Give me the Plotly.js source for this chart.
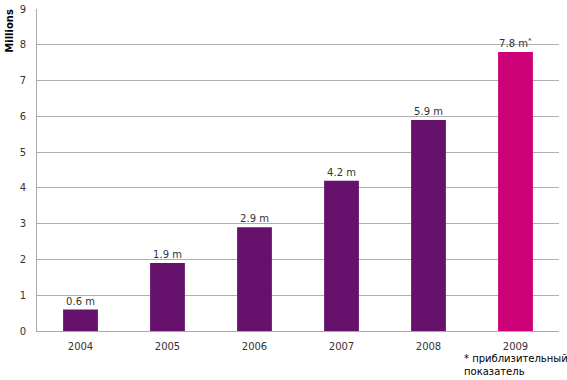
<!DOCTYPE html>
<html><head><meta charset="utf-8">
<script src="https://cdn.plot.ly/plotly-3.0.1.min.js"></script>
<style>html,body{margin:0;padding:0;background:#fff}#chart{width:567px;height:380px}</style>
</head><body><div id="chart"></div>
<script>
const years = ['2004','2005','2006','2007','2008','2009'];
const values = [0.6, 1.9, 2.9, 4.2, 5.9, 7.8];
const labels = ['0.6 m','1.9 m','2.9 m','4.2 m','5.9 m','7.8 m<sup>*</sup>'];
const colors = ['#66116b','#66116b','#66116b','#66116b','#66116b','#cc0077'];
const yTicks = [0,1,2,3,4,5,6,7,8,9];
const yTitle = '<b>Millions</b>';
const footnote = '* приблизительный<br>показатель';

const trace = {
  type: 'bar', x: years, y: values, text: labels, textposition: 'outside',
  cliponaxis: false,
  textfont: {family: 'DejaVu Sans, Verdana, sans-serif', size: 10, color: '#333'},
  marker: {color: colors}, hoverinfo: 'none'
};
const layout = {
  width: 567, height: 380,
  margin: {l: 37, r: 8, t: 9, b: 49},
  paper_bgcolor: '#fff', plot_bgcolor: '#fff',
  bargap: 0.6, showlegend: false,
  font: {family: 'DejaVu Sans, Verdana, sans-serif', size: 10, color: '#333'},
  xaxis: {type: 'category', showgrid: false, showline: true, linecolor: '#aaa', linewidth: 1,
    ticks: '', ticklabelstandoff: 6, tickfont: {size: 10, color: '#333'}},
  yaxis: {range: [0, 9], tickvals: yTicks, showgrid: true, gridcolor: '#b0b0b0', gridwidth: 1,
    showline: true, linecolor: '#aaa', zeroline: false, ticks: '', ticklen: 0,
    ticklabelstandoff: 8, tickfont: {size: 10, color: '#333'}},
  annotations: [
    {xref: 'paper', yref: 'paper', x: -0.052, y: 0.932, xanchor: 'center', yanchor: 'middle',
     textangle: -90, text: yTitle, showarrow: false, font: {size: 10, color: '#000'}},
    {xref: 'paper', yref: 'paper', x: 0.814, y: -0.062, xanchor: 'left', yanchor: 'top',
     text: footnote, showarrow: false, align: 'left', font: {size: 10, color: '#000'}}
  ]
};
Plotly.newPlot('chart', [trace], layout, {displayModeBar: false, staticPlot: true});
</script></body></html>
